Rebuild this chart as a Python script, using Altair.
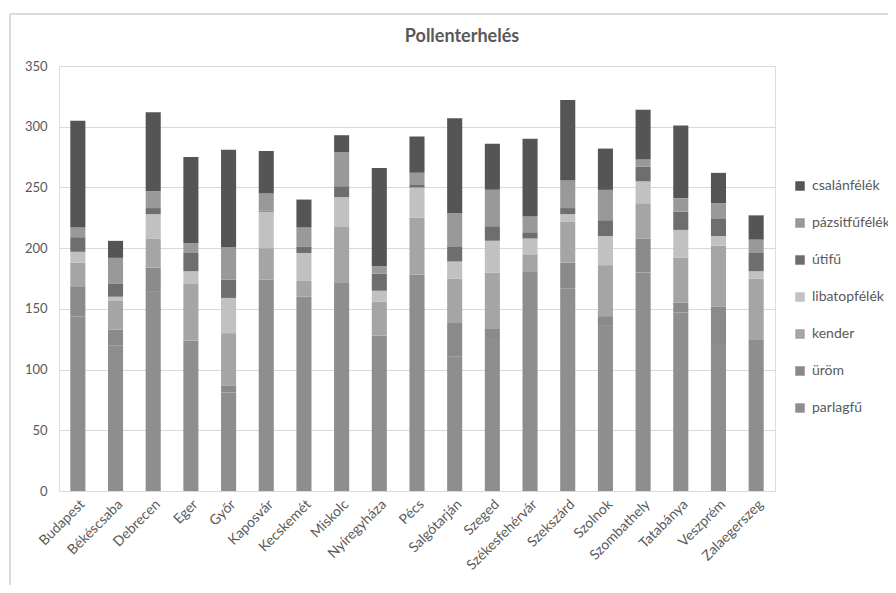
import altair as alt
import pandas as pd

cities = ["Budapest", "Békéscsaba", "Debrecen", "Eger", "Győr", "Kaposvár", "Kecskemét",
          "Miskolc", "Nyíregyháza", "Pécs", "Salgótarján", "Szeged", "Székesfehérvár",
          "Szekszárd", "Szolnok", "Szombathely", "Tatabánya", "Veszprém", "Zalaegerszeg"]

series = ["parlagfű", "üröm", "kender", "libatopfélék", "útifű", "pázsitfűfélék", "csalánfélék"]

parlagfu = [144, 120, 164, 124, 81, 174, 160, 172, 128, 178, 111, 126, 181, 167, 136, 180, 147, 121, 125]
urom = [24, 13, 20, 0, 6, 0, 0, 0, 0, 0, 28, 8, 0, 21, 8, 28, 8, 31, 0]
kender = [20, 24, 24, 47, 43, 26, 13, 46, 28, 47, 36, 46, 14, 34, 42, 29, 37, 50, 50]
libatop = [9, 3, 20, 10, 29, 30, 23, 24, 9, 25, 14, 26, 13, 6, 24, 18, 23, 8, 6]
utifu = [12, 11, 5, 15, 15, 1, 5, 9, 14, 2, 12, 12, 5, 5, 13, 12, 15, 14, 15]
pazsit = [8, 21, 14, 8, 27, 14, 16, 28, 6, 10, 28, 30, 13, 23, 25, 6, 11, 13, 11]
csalan = [88, 14, 65, 71, 80, 35, 23, 14, 81, 30, 78, 38, 64, 66, 34, 41, 60, 25, 20]

title_text = "Pollenterhelés"

values = [parlagfu, urom, kender, libatop, utifu, pazsit, csalan]
colors = ["#8e8e8e", "#8a8a8a", "#a5a5a5", "#c1c1c1", "#6e6e6e", "#999999", "#555555"]

rows = []
for si, (name, vals) in enumerate(zip(series, values)):
    for c, v in zip(cities, vals):
        rows.append({"város": c, "pollen": name, "érték": v, "rend": si})
df = pd.DataFrame(rows)

legend_order = list(reversed(series))
legend_colors = list(reversed(colors))

FONT = "Lato"
TXT = "#595959"
GRID = "#d9d9d9"

bars = alt.Chart(df).mark_bar().encode(
    x=alt.X("város:N", sort=cities, title=None,
            scale=alt.Scale(paddingInner=0.6, paddingOuter=0.3),
            axis=alt.Axis(labelAngle=-45, labelFont=FONT, labelFontSize=14, labelColor=TXT,
                          domainColor=GRID, ticks=False, labelPadding=6, grid=False)),
    y=alt.Y("érték:Q", stack="zero", title=None,
            scale=alt.Scale(domain=[0, 350], nice=False),
            axis=alt.Axis(values=[0, 50, 100, 150, 200, 250, 300, 350], domain=False, ticks=False,
                          labelFont=FONT, labelFontSize=13, labelColor=TXT, labelPadding=12,
                          gridColor=GRID, gridWidth=1)),
    color=alt.Color("pollen:N", title=None,
                    scale=alt.Scale(domain=legend_order, range=legend_colors),
                    legend=alt.Legend(orient="none", legendX=734, legendY=113,
                                      symbolType="square", symbolSize=90, symbolStrokeWidth=0,
                                      labelFont=FONT, labelFontSize=14, labelColor=TXT,
                                      rowPadding=23, labelOffset=5)),
    order=alt.Order("rend:Q", sort="ascending"),
)

frame_top = alt.Chart(df).mark_rule(color=GRID, strokeWidth=1).encode(
    x=alt.value(-49), x2=alt.value(900), y=alt.value(-52))
frame_left = alt.Chart(df).mark_rule(color=GRID, strokeWidth=1).encode(
    x=alt.value(-49), y=alt.value(-52), y2=alt.value(600))

title = alt.Chart(pd.DataFrame({"t": [title_text]})).mark_text(
    font=FONT, fontSize=18, fontWeight="bold", color=TXT, align="center", baseline="middle"
).encode(text="t:N", x=alt.value(403), y=alt.value(-29))

chart = alt.layer(frame_top, frame_left, bars, title).properties(
    width=716, height=425,
    autosize=alt.AutoSizeParams(type="none"),
    padding={"left": 51, "top": 58, "right": 113, "bottom": 94},
).configure_view(stroke=None).configure(background="white")

chart.save("out.html", embed_options={"renderer": "svg", "actions": False})
